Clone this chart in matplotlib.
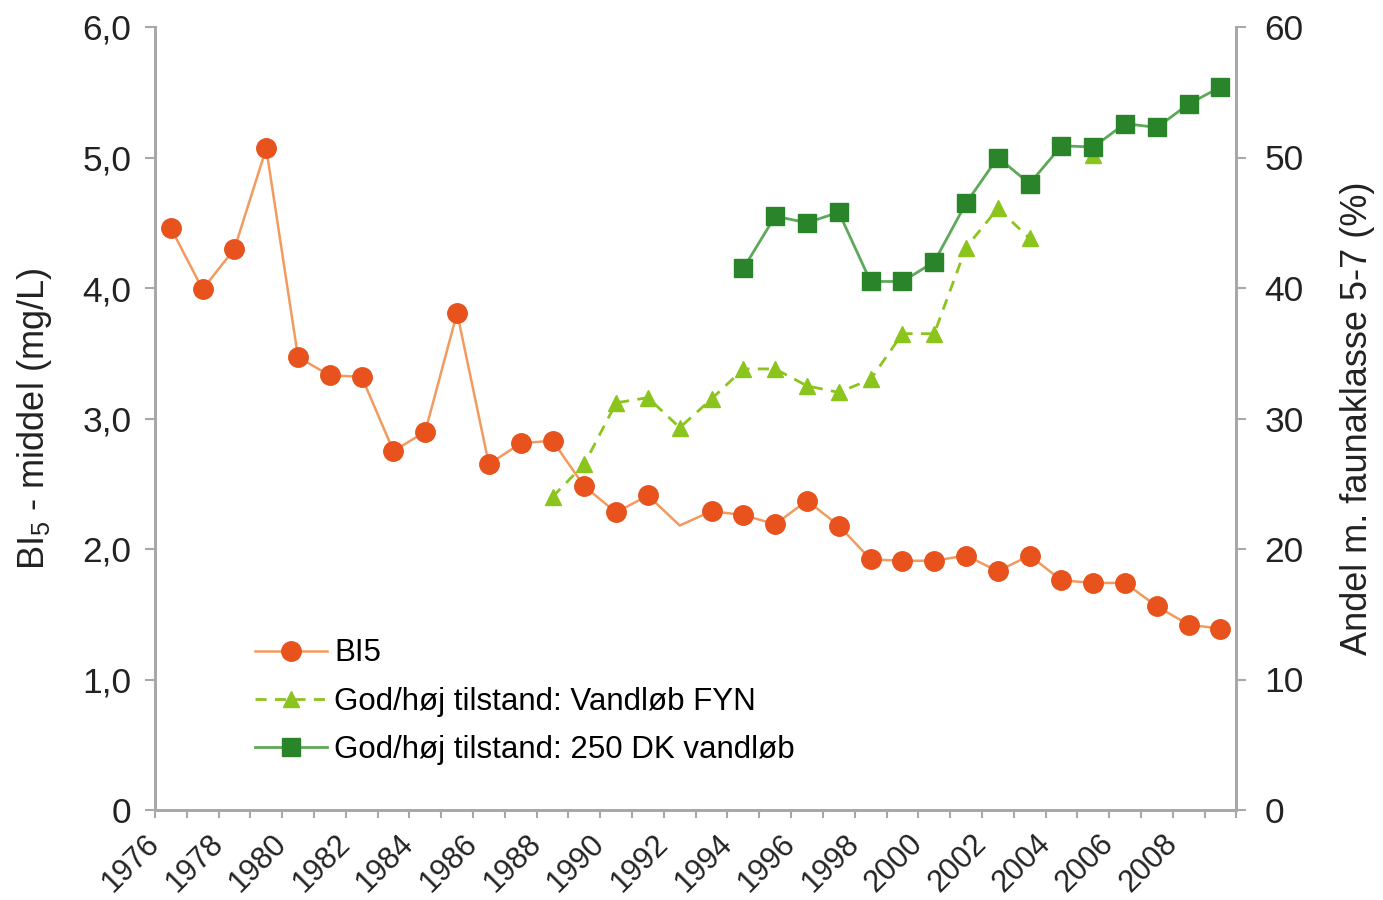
import matplotlib
matplotlib.use("Agg")
import matplotlib.pyplot as plt
import numpy as np

plt.rcParams['font.family'] = ['Liberation Sans', 'DejaVu Sans']
plt.rcParams['mathtext.fontset'] = 'custom'
plt.rcParams['mathtext.rm'] = 'Liberation Sans'

# data (values placed at mid-year)
years = np.arange(1976, 2010) + 0.5
bi5 = [4.46, 3.99, 4.30, 5.07, 3.47, 3.33, 3.32, 2.75, 2.90, 3.81,
       2.65, 2.81, 2.83, 2.48, 2.28, 2.41, 2.18, 2.29, 2.26, 2.19,
       2.37, 2.18, 1.92, 1.91, 1.91, 1.95, 1.83, 1.95, 1.76, 1.74,
       1.74, 1.56, 1.42, 1.39]
bi5_no_marker = [16]  # 1992 has no marker in the original

fyn_years = np.arange(1988, 2006) + 0.5
fyn = [24.0, 26.5, 31.2, 31.6, 29.3, 31.5, 33.8, 33.8, 32.5, 32.0,
       33.0, 36.5, 36.5, 43.1, 46.1, 43.8, np.nan, 50.2]

dk_years = np.arange(1994, 2010) + 0.5
dk = [41.5, 45.5, 45.0, 45.8, 40.5, 40.5, 42.0, 46.5, 50.0, 48.0,
      50.9, 50.8, 52.6, 52.3, 54.1, 55.4]

xtick_labels = [str(y) for y in range(1976, 2010, 2)]

c_bi5_line = '#F39A5E'
c_bi5_mark = '#E8521C'
c_fyn = '#8CC41E'
c_dk_line = '#5DA95A'
c_dk_mark = '#2A852A'
c_axis = '#A8A8A8'
c_text = '#222222'

fig = plt.figure(figsize=(13.83, 9.0), dpi=100)
ax = fig.add_axes([0.112, 0.1, 0.782, 0.87])
ax2 = ax.twinx()

marks = [i for i in range(len(bi5)) if i not in bi5_no_marker]
l1, = ax.plot(years, bi5, color=c_bi5_line, lw=1.8, marker='o', markersize=14,
              markerfacecolor=c_bi5_mark, markeredgecolor=c_bi5_mark,
              markevery=marks, label='BI5', zorder=3)
l2, = ax2.plot(fyn_years, fyn, color=c_fyn, lw=2.0, ls=(0, (4, 3)), marker='^',
               markersize=12, markerfacecolor=c_fyn, markeredgecolor=c_fyn,
               label='God/høj tilstand: Vandløb FYN', zorder=2)
l3, = ax2.plot(dk_years, dk, color=c_dk_line, lw=2.0, marker='s', markersize=13,
               markerfacecolor=c_dk_mark, markeredgecolor=c_dk_mark,
               label='God/høj tilstand: 250 DK vandløb', zorder=3)

ax.set_xlim(1976, 2010)
ax.set_ylim(0, 6)
ax2.set_ylim(0, 60)

ax.set_xticks(np.arange(1976, 2010, 2))
ax.set_xticks(np.arange(1976, 2011, 1), minor=True)
ax.set_xticklabels(xtick_labels, rotation=45, ha='right', va='center',
                   rotation_mode='anchor')
ax.set_yticks(np.arange(0, 7, 1))
ax.set_yticklabels(['0'] + ['%d,0' % v for v in range(1, 7)])
ax2.set_yticks(np.arange(0, 70, 10))
ax2.set_yticklabels([str(v) for v in range(0, 70, 10)])

for a in (ax, ax2):
    a.spines['top'].set_visible(False)
    for s in ('left', 'right', 'bottom'):
        a.spines[s].set_color(c_axis)
        a.spines[s].set_linewidth(2)
    a.tick_params(axis='both', which='both', color=c_axis, width=1.5,
                  labelcolor=c_text)
    a.tick_params(axis='y', length=7, labelsize=25.5)
ax.tick_params(axis='y', pad=10)
ax2.tick_params(axis='y', pad=13)
ax.tick_params(axis='x', which='both', length=6, pad=15, labelsize=22)

ax.set_ylabel(r'BI$\mathregular{_5}$ - middel (mg/L)', fontsize=26, color=c_text,
              labelpad=20)
ax2.set_ylabel('Andel m. faunaklasse 5-7 (%)', fontsize=26, color=c_text,
               labelpad=26)

ax.legend(handles=[l1, l2, l3], loc='upper left', bbox_to_anchor=(0.078, 0.239),
          frameon=False, fontsize=22.5, handlelength=2.3, handletextpad=0.24,
          labelspacing=0.58, borderpad=0)

fig.savefig('out.png', dpi=100)
